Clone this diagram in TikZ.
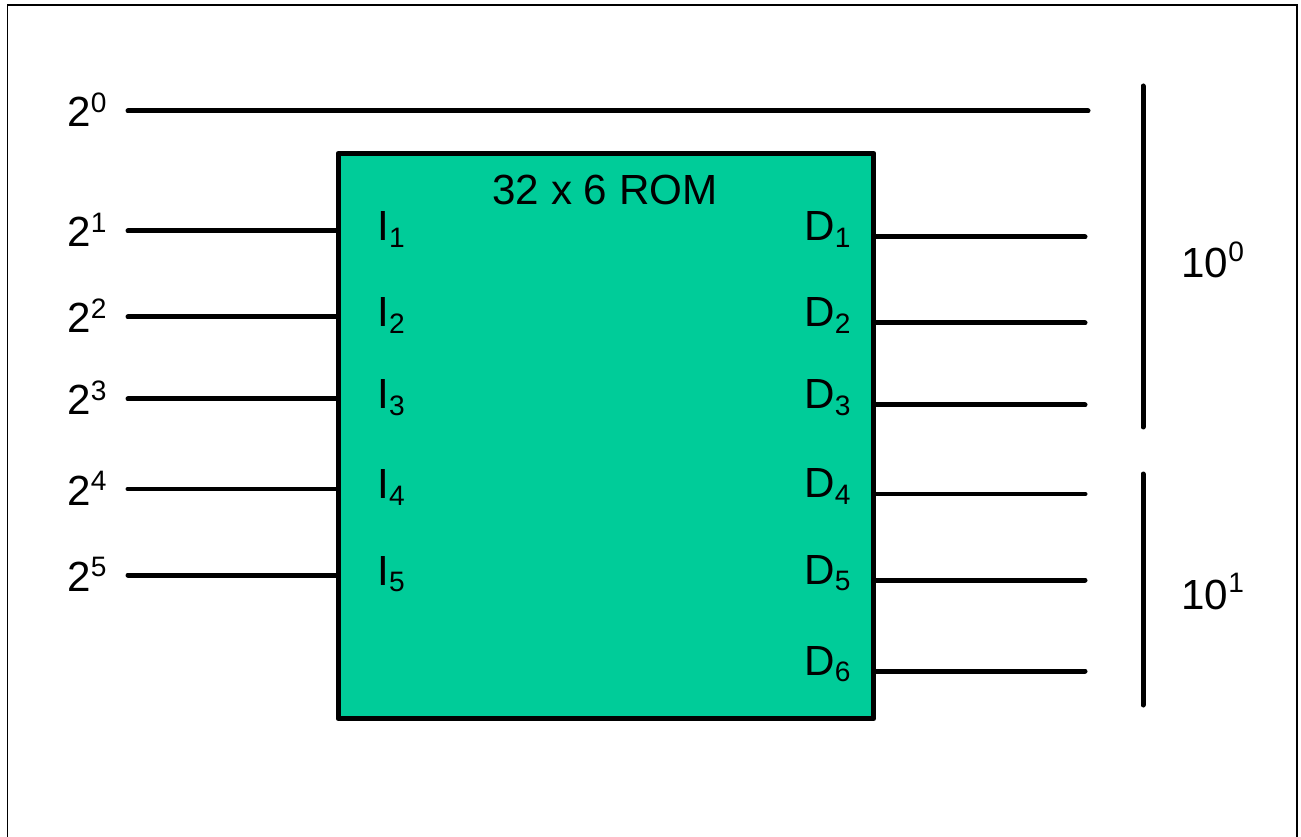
\documentclass[tikz,border=0pt]{standalone}
\usepackage{fontspec}
\setmainfont{Liberation Sans}
\definecolor{romgreen}{RGB}{0,204,153}
\newcommand{\pw}[3][8.2pt]{#2\raisebox{#1}{\fontsize{16pt}{16pt}\selectfont #3}}
\newcommand{\pin}[2]{#1\raisebox{-3.8pt}{\fontsize{16pt}{16pt}\selectfont #2}}
\tikzset{
    lbl/.style={inner sep=0pt, anchor=base west, font=\fontsize{24pt}{28pt}\selectfont},
    wire/.style={line width=0.1cm, line cap=round}
}
\begin{document}
\begin{tikzpicture}[x=0.02cm, y=-0.02cm]
            \useasboundingbox (0,0) rectangle (1301,837);
            \draw[line width=0.85pt] (7.6,845) -- (7.6,5) -- (1297,5) -- (1297,845);

            % the ROM block
            \node[draw, fill=romgreen, line width=0.1cm, line join=round, inner sep=0pt,
                  minimum width=10.72cm, minimum height=11.3cm] (rom) at (606,436) {};
            \node[lbl, anchor=base] (title) at (605,205) {32 x 6 ROM};

            % binary inputs
            \coordinate (a0) at (128,111);
            \coordinate (b0) at (1088,111);
            \coordinate (a1) at (128,231);
            \coordinate (a2) at (128,317);
            \coordinate (a3) at (128,399);
            \coordinate (a4) at (128,489);
            \coordinate (a5) at (128,575);

            \node[lbl] (p0) at (67,127) {\pw{2}{0}};
            \node[lbl] (p1) at (67,247) {\pw{2}{1}};
            \node[lbl] (p2) at (67,333) {\pw{2}{2}};
            \node[lbl] (p3) at (67,415) {\pw{2}{3}};
            \node[lbl] (p4) at (67,505) {\pw{2}{4}};
            \node[lbl] (p5) at (67,591) {\pw{2}{5}};

            \draw[wire] (a0) -- (b0);
            \draw[wire] (a1) -- (a1 -| rom.west);
            \draw[wire] (a2) -- (a2 -| rom.west);
            \draw[wire] (a3) -- (a3 -| rom.west);
            \draw[wire] (a4) -- (a4 -| rom.west);
            \draw[wire] (a5) -- (a5 -| rom.west);

            \node[lbl] (i1) at (377,241) {\pin{I}{1}};
            \node[lbl] (i2) at (377,327) {\pin{I}{2}};
            \node[lbl] (i3) at (377,409) {\pin{I}{3}};
            \node[lbl] (i4) at (377,499) {\pin{I}{4}};
            \node[lbl] (i5) at (377,585) {\pin{I}{5}};

            % BCD outputs
            \coordinate (e1) at (1085,237);
            \coordinate (e2) at (1085,323);
            \coordinate (e3) at (1085,405);
            \coordinate (e4) at (1085,494);
            \coordinate (e5) at (1085,580);
            \coordinate (e6) at (1085,671);

            \node[lbl] (d1) at (804,241) {\pin{D}{1}};
            \node[lbl] (d2) at (804,327) {\pin{D}{2}};
            \node[lbl] (d3) at (804,409) {\pin{D}{3}};
            \node[lbl] (d4) at (804,498) {\pin{D}{4}};
            \node[lbl] (d5) at (804,584) {\pin{D}{5}};
            \node[lbl] (d6) at (804,675) {\pin{D}{6}};

            \draw[wire] (e1 -| rom.east) -- (e1);
            \draw[wire] (e2 -| rom.east) -- (e2);
            \draw[wire] (e3 -| rom.east) -- (e3);
            \draw[wire] (e4 -| rom.east) -- (e4);
            \draw[wire] (e5 -| rom.east) -- (e5);
            \draw[wire] (e6 -| rom.east) -- (e6);

            % decimal digits
            \coordinate (t0) at (1143,86);
            \coordinate (u0) at (1143,427);
            \coordinate (t1) at (1143,474);
            \coordinate (u1) at (1143,705);
            \draw[wire] (t0) -- (u0);
            \draw[wire] (t1) -- (u1);

            \node[lbl] (ten0) at (1181,278) {\pw[9.6pt]{10}{0}};
            \node[lbl] (ten1) at (1181,609) {\pw[9.6pt]{10}{1}};
\end{tikzpicture}
\end{document}
